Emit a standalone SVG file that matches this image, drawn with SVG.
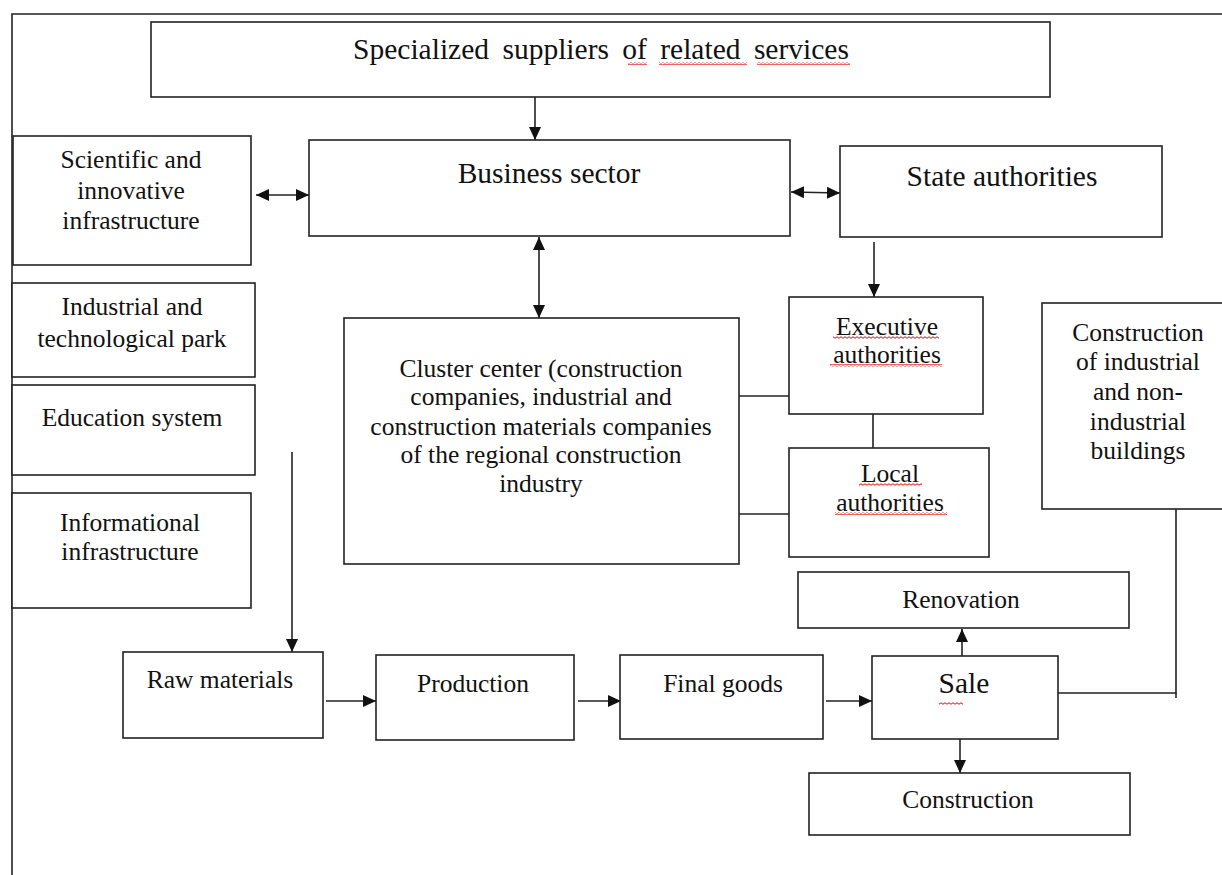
<svg xmlns="http://www.w3.org/2000/svg" width="1222" height="875" viewBox="0 0 1222 875">
<style>
.box{fill:#fff;stroke:#222;stroke-width:1.6}
.t{font-family:"Liberation Serif","Times New Roman",serif;font-size:25.5px;fill:#111;text-anchor:middle}
.big{font-size:29.5px}
.ln{stroke:#222;stroke-width:1.6;fill:none}
.wv{fill:url(#wave)}
</style>
<defs>
<marker id="ah" markerUnits="userSpaceOnUse" markerWidth="14" markerHeight="12" refX="13" refY="6" orient="auto-start-reverse">
<path d="M0,0 L13,6 L0,12 Z" fill="#111"/>
</marker>
<pattern id="wave" width="4" height="3" patternUnits="userSpaceOnUse">
<path d="M0 1.5 Q1 0 2 1.5 T4 1.5" stroke="#e00" stroke-width="1" fill="none"/>
</pattern>
</defs>
<rect width="1222" height="875" fill="#fff"/>
<g id="frame">
<path class="ln" d="M12 875 V14 H1222"/>
</g>
<g id="connectors">
<line class="ln" x1="535" y1="97" x2="535" y2="140" marker-end="url(#ah)"/>
<line class="ln" x1="256" y1="195" x2="309" y2="195" marker-start="url(#ah)" marker-end="url(#ah)"/>
<line class="ln" x1="791" y1="192" x2="840" y2="193" marker-start="url(#ah)" marker-end="url(#ah)"/>
<line class="ln" x1="539" y1="237" x2="539" y2="318" marker-start="url(#ah)" marker-end="url(#ah)"/>
<line class="ln" x1="874" y1="242" x2="874" y2="297" marker-end="url(#ah)"/>
<line class="ln" x1="739" y1="396" x2="789" y2="396"/>
<line class="ln" x1="739" y1="514" x2="789" y2="514"/>
<line class="ln" x1="873" y1="414" x2="873" y2="448"/>
<line class="ln" x1="292" y1="452" x2="292" y2="652" marker-end="url(#ah)"/>
<line class="ln" x1="326" y1="701" x2="376" y2="701" marker-end="url(#ah)"/>
<line class="ln" x1="578" y1="701" x2="621" y2="701" marker-end="url(#ah)"/>
<line class="ln" x1="826" y1="701" x2="872" y2="701" marker-end="url(#ah)"/>
<line class="ln" x1="962" y1="656" x2="962" y2="629" marker-end="url(#ah)"/>
<line class="ln" x1="960" y1="739" x2="960" y2="773" marker-end="url(#ah)"/>
<path class="ln" d="M1058 693 H1176 V509"/>
<line class="ln" x1="1176" y1="693" x2="1176" y2="698"/>
</g>
<g id="suppliers">
<rect class="box" x="151" y="22" width="899" height="75"/>
<text class="t big" x="601" y="59" word-spacing="6">Specialized suppliers of related services</text>
<rect class="wv" x="628" y="62" width="19" height="3"/>
<rect class="wv" x="659" y="62" width="88" height="3"/>
<rect class="wv" x="757" y="62" width="93" height="3"/>
</g>
<g id="business">
<rect class="box" x="309" y="140" width="481" height="96"/>
<text class="t big" x="549" y="183">Business sector</text>
</g>
<g id="state">
<rect class="box" x="840" y="146" width="322" height="91"/>
<text class="t big" x="1002" y="186">State authorities</text>
</g>
<g id="scientific">
<rect class="box" x="13" y="136" width="238" height="129"/>
<text class="t" x="131" y="168">Scientific and</text>
<text class="t" x="131" y="199">innovative</text>
<text class="t" x="131" y="229">infrastructure</text>
</g>
<g id="park">
<rect class="box" x="12" y="283" width="243" height="94"/>
<text class="t" x="132" y="315">Industrial and</text>
<text class="t" x="132" y="347">technological park</text>
</g>
<g id="education">
<rect class="box" x="12" y="385" width="243" height="90"/>
<text class="t" x="132" y="426">Education system</text>
</g>
<g id="informational">
<rect class="box" x="12" y="493" width="239" height="115"/>
<text class="t" x="130" y="531">Informational</text>
<text class="t" x="130" y="560">infrastructure</text>
</g>
<g id="cluster">
<rect class="box" x="344" y="318" width="395" height="246"/>
<text class="t" x="541" y="377">Cluster center (construction</text>
<text class="t" x="541" y="405">companies, industrial and</text>
<text class="t" x="541" y="435">construction materials companies</text>
<text class="t" x="541" y="463">of the regional construction</text>
<text class="t" x="541" y="492">industry</text>
</g>
<g id="executive">
<rect class="box" x="789" y="297" width="194" height="117"/>
<text class="t" x="887" y="335">Executive</text>
<text class="t" x="887" y="363">authorities</text>
<rect class="wv" x="833" y="336" width="106" height="3"/>
<rect class="wv" x="830" y="364" width="112" height="3"/>
</g>
<g id="local">
<rect class="box" x="789" y="448" width="200" height="109"/>
<text class="t" x="890" y="482">Local</text>
<text class="t" x="890" y="511">authorities</text>
<rect class="wv" x="859" y="483" width="63" height="3"/>
<rect class="wv" x="835" y="512" width="112" height="3"/>
</g>
<g id="buildings">
<rect class="box" x="1042" y="303" width="200" height="206"/>
<text class="t" x="1138" y="341">Construction</text>
<text class="t" x="1138" y="370">of industrial</text>
<text class="t" x="1138" y="400">and non-</text>
<text class="t" x="1138" y="430">industrial</text>
<text class="t" x="1138" y="459">buildings</text>
</g>
<g id="raw">
<rect class="box" x="123" y="652" width="200" height="86"/>
<text class="t" x="220" y="688">Raw materials</text>
</g>
<g id="production">
<rect class="box" x="376" y="655" width="198" height="85"/>
<text class="t" x="473" y="692">Production</text>
</g>
<g id="final">
<rect class="box" x="620" y="655" width="203" height="84"/>
<text class="t" x="723" y="692">Final goods</text>
</g>
<g id="sale">
<rect class="box" x="872" y="656" width="186" height="83"/>
<text class="t big" x="964" y="693">Sale</text>
<rect class="wv" x="939" y="702" width="24" height="3"/>
</g>
<g id="renovation">
<rect class="box" x="798" y="572" width="331" height="56"/>
<text class="t" x="961" y="608">Renovation</text>
</g>
<g id="construction">
<rect class="box" x="809" y="773" width="321" height="62"/>
<text class="t" x="968" y="808">Construction</text>
</g>
</svg>
